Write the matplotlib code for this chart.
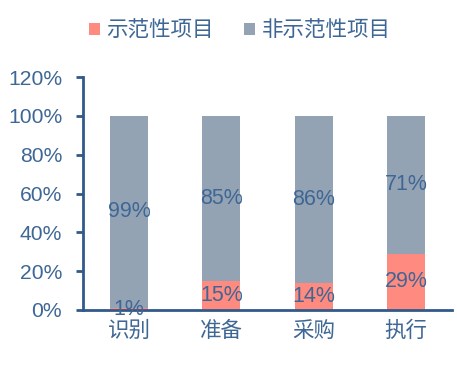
import matplotlib
matplotlib.use("Agg")
import matplotlib.pyplot as plt
from matplotlib.ticker import FuncFormatter

plt.rcParams['font.family'] = ['Liberation Sans', 'Noto Sans CJK SC', 'DejaVu Sans']

categories = ['识别', '准备', '采购', '执行']
demo = [1, 15, 14, 29]
nondemo = [99, 85, 86, 71]
series_names = ['示范性项目', '非示范性项目']
yticks = [0, 20, 40, 60, 80, 100, 120]

c_demo = '#FF8A80'
c_non = '#94A3B4'
c_axis = '#2F5A8A'
c_text = '#3E6795'

fig = plt.figure(figsize=(4.57, 3.65), dpi=100)
ax = fig.add_axes([0.1816, 0.1507, 0.8074, 0.6383])

x = list(range(len(categories)))
w = 0.41
b1 = ax.bar(x, demo, width=w, color=c_demo, label=series_names[0], zorder=2)
b2 = ax.bar(x, nondemo, width=w, bottom=demo, color=c_non, label=series_names[1], zorder=2)

for i in x:
    ax.text(i, demo[i] / 2, f'{demo[i]}%', ha='center', va='center', fontsize=15.5, color=c_text, zorder=3)
    ax.text(i, demo[i] + nondemo[i] / 2, f'{nondemo[i]}%', ha='center', va='center', fontsize=15.5, color=c_text, zorder=3)

ax.set_xlim(-0.5, len(categories) - 0.5)
ax.set_ylim(0, 120)
ax.set_yticks(yticks)
ax.yaxis.set_major_formatter(FuncFormatter(lambda v, p: f'{int(v)}%'))
ax.set_xticks(x)
ax.set_xticklabels(categories)

for s in ['top', 'right']:
    ax.spines[s].set_visible(False)
for s in ['left', 'bottom']:
    ax.spines[s].set_color(c_axis)
    ax.spines[s].set_linewidth(2)

ax.tick_params(axis='y', colors=c_axis, labelcolor=c_text, labelsize=15.2, length=5, width=2, direction='out', pad=10)
ax.tick_params(axis='x', length=0, labelcolor=c_text, labelsize=15.5, pad=8)

leg = fig.legend(handles=[b1, b2], labels=series_names, loc='center', bbox_to_anchor=(0.525, 0.915),
                 ncol=2, frameon=False, fontsize=15.5, handlelength=0.5, handleheight=0.5,
                 handletextpad=0.3, columnspacing=1.4)
for t in leg.get_texts():
    t.set_color(c_text)

fig.savefig('out.png', dpi=100)
